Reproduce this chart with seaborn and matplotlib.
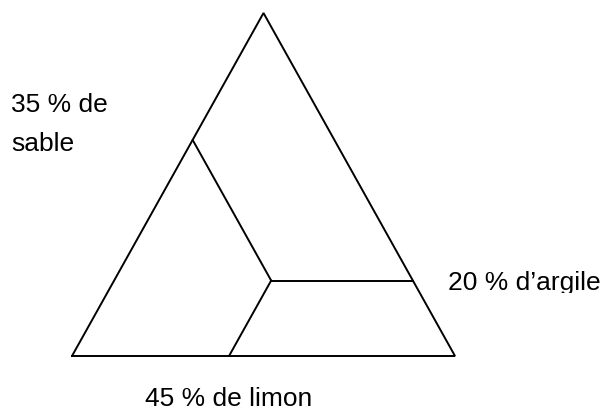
import matplotlib
matplotlib.use("Agg")
import matplotlib.pyplot as plt
from matplotlib.transforms import Bbox
import pandas as pd
import seaborn as sns

# soil texture: components and the sample composition
COMPONENTS = ["sable", "limon", "argile"]
LABEL_PCT = [35, 45, 20]
# fractions (corner weights: bottom-left, bottom-right, top)
POINT_FRAC = [0.37, 0.41, 0.22]
LABELS = ["35 % de\nsable", "45 % de limon", "20 % d\u2019argile"]


def to_xy(a, b, c):
    """Ternary weights -> cartesian (bottom-left, bottom-right, top corners)."""
    return b + 0.5 * c, c


def build_segments():
    a, b, c = POINT_FRAC
    rows = []
    # outer triangle
    for k, w in enumerate([(1, 0, 0), (0, 1, 0), (0, 0, 1), (1, 0, 0)]):
        x, y = to_xy(*w)
        rows.append({"seg": "frame", "order": k, "x": x, "y": y})
    ends = {
        "sable": (a, 0, 1 - a),   # constant sand -> left side
        "limon": (1 - b, b, 0),   # constant silt -> bottom side
        "argile": (0, 1 - c, c),  # constant clay -> right side
    }
    for name in COMPONENTS:
        for k, w in enumerate([(a, b, c), ends[name]]):
            x, y = to_xy(*w)
            rows.append({"seg": name, "order": k, "x": x, "y": y})
    return pd.DataFrame(rows)


sns.set_theme(style="white")
plt.rcParams["font.family"] = ["Liberation Sans", "DejaVu Sans"]

W, H = 607, 412
fig = plt.figure(figsize=(W / 100, H / 100), dpi=100)
# triangle spans x 72..455 px, y 13..356 px
ax = fig.add_axes([72 / W, (H - 356) / H, (455 - 72) / W, (356 - 13) / H])

df = build_segments()
sns.lineplot(data=df, x="x", y="y", units="seg", estimator=None, sort=False,
             color="black", linewidth=1.4, ax=ax, legend=False)
for line in ax.get_lines():
    line.set_clip_on(False)
    line.set_solid_joinstyle("miter")

ax.set_xlim(0, 1)
ax.set_ylim(0, 1)
ax.set_axis_off()

fs = 19
txt = dict(fontsize=fs, color="black", va="baseline")

# sand label, two lines
for i, part in enumerate(LABELS[0].split("\n")):
    fig.text(11 / W, 1 - (112 + 39 * i) / H, part, ha="left", **txt)

fig.text(229 / W, 1 - 406 / H, LABELS[1], ha="center", **txt)

# clay label: bottom of the descenders is cut off in the original
t = fig.text(448 / W, 1 - 290 / H, LABELS[2], ha="left", **txt)
t.set_clip_box(Bbox.from_extents(0, H - 293, W, H))
t.set_clip_on(True)

fig.savefig("out.png", dpi=100, facecolor="white")
